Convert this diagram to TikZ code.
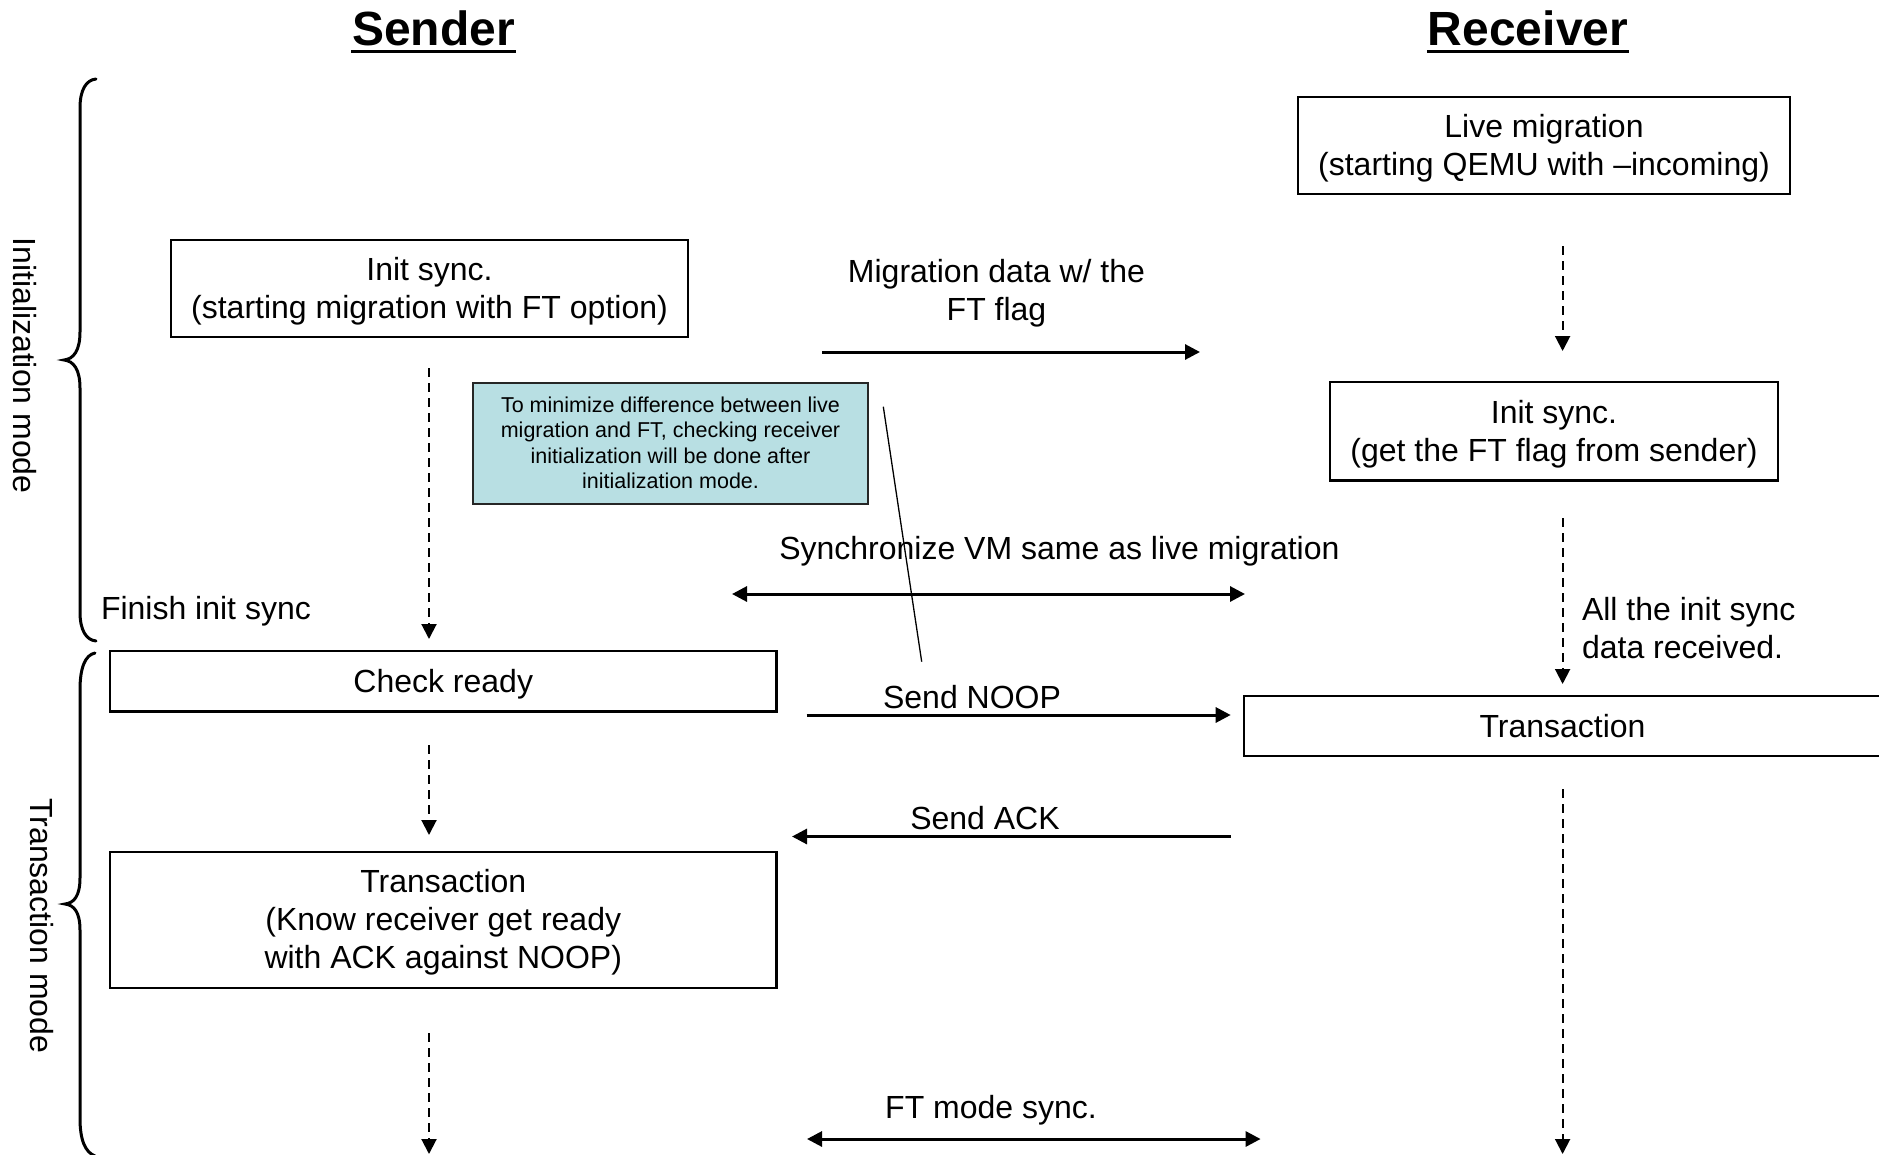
\documentclass[tikz,border=0pt]{standalone}
\usepackage{fontspec}
\setmainfont{Liberation Sans}
\usetikzlibrary{arrows.meta}
\definecolor{notefill}{RGB}{184,223,227}
\newcommand{\lstr}{\rule[-8pt]{0pt}{38pt}}
\newcommand{\nstr}{\rule[-5.25pt]{0pt}{25.5pt}}
\begin{document}
\begin{tikzpicture}[x=1pt,y=-1pt,
  every node/.style={inner sep=0pt,outer sep=0pt},
  big/.style={font=\fontsize{32pt}{38pt}\selectfont},
  titletxt/.style={font=\fontsize{48pt}{56pt}\selectfont\bfseries, anchor=base},
  box/.style={draw, line width=2.2pt, big, align=center},
  notebox/.style={draw=black!85, line width=2pt, fill=notefill, align=center,
    font=\fontsize{21.5pt}{25.5pt}\selectfont},
  lbl/.style={big, anchor=base},
  msg/.style={line width=3pt, -{Triangle[length=15pt,width=15pt]}},
  msgboth/.style={line width=3pt, {Triangle[length=15pt,width=15pt]}-{Triangle[length=15pt,width=15pt]}},
  flow/.style={line width=2pt, dash pattern=on 9pt off 6pt, -{Triangle[length=15pt,width=15pt]}},
  bracestyle/.style={line width=3pt, line cap=round}
]
\useasboundingbox (0,0) rectangle (1879,1154);

% titles
\node[titletxt] (sendT) at (433.5,45) {Sender};
\node[titletxt] (recvT) at (1528,45) {Receiver};
\draw[line width=3pt] ([yshift=-6.7pt,xshift=-1pt]sendT.base west) -- ([yshift=-6.7pt,xshift=1pt]sendT.base east);
\draw[line width=3pt] ([yshift=-6.7pt,xshift=-1pt]recvT.base west) -- ([yshift=-6.7pt,xshift=1pt]recvT.base east);

% braces
\draw[bracestyle] (96,79) .. controls (86,80) and (80,90) .. (80,108) -- (80,332)
  .. controls (80,350) and (74,359) .. (64,360) .. controls (74,361) and (80,370) .. (80,388)
  -- (80,612) .. controls (80,630) and (86,640) .. (96,641);
\draw[bracestyle] (95,653) .. controls (85,655) and (80,668) .. (80,690) -- (80,878)
  .. controls (80,896) and (74,903) .. (65,904) .. controls (74,905) and (80,912) .. (80,930)
  -- (80,1118) .. controls (80,1140) and (85,1152) .. (95,1156);
\node[big, rotate=-90] (initMode) at (25,365.5) {Initialization mode};
\node[big, rotate=-90] (transMode) at (41.5,925.7) {Transaction mode};

% boxes
\node[box, minimum width=492pt, minimum height=97pt] (liveR) at (1544,145.5)
  {\lstr Live migration\\\lstr(starting QEMU with –incoming)};
\node[box, minimum width=517pt, minimum height=97pt] (initS) at (429.5,288.5)
  {\lstr Init sync.\\\lstr(starting migration with FT option)};
\node[box, minimum width=448.5pt, minimum height=98.5pt] (initR) at (1554,431.3)
  {\lstr Init sync.\\\lstr(get the FT flag from sender)};
\node[notebox, minimum width=394.4pt, minimum height=121.3pt] (note) at (670.5,443.2)
  {\nstr To minimize difference between live\\\nstr migration and FT, checking receiver\\\nstr initialization will be done after\\\nstr initialization mode.};
\node[box, minimum width=666.5pt, minimum height=60.5pt] (check) at (443.25,681.3)
  {\lstr Check ready};
\node[box, minimum width=637pt, minimum height=60pt] (transR) at (1562.5,726)
  {\lstr Transaction};
\node[box, minimum width=666.5pt, minimum height=136pt] (transS) at (443.25,919.7)
  {\lstr Transaction\\\lstr(Know receiver get ready\\\lstr with ACK against NOOP)};

% labels
\node[big, align=center] (migLbl) at (996.5,290) {\lstr Migration data w/ the\\\lstr FT flag};
\node[lbl] (syncLbl) at (1059.4,559) {Synchronize VM same as live migration};
\node[big, anchor=base west] (finLbl) at (101,619) {Finish init sync};
\node[big, align=left, anchor=west] (allLbl) at (1582,628) {\lstr All the init sync\\\lstr data received.};
\node[lbl] (noopLbl) at (972,708) {Send NOOP};
\node[lbl] (ackLbl) at (985,829.5) {Send ACK};
\node[lbl] (ftLbl) at (991,1118) {FT mode sync.};

% message arrows
\coordinate (migA) at (822,352);   \coordinate (migB) at (1200,352);
\coordinate (syncA) at (732,594);  \coordinate (syncB) at (1245,594);
\coordinate (noopA) at (806.5,715); \coordinate (noopB) at (1230.7,715);
\coordinate (ackA) at (1230.7,836.5); \coordinate (ackB) at (792,836.5);
\coordinate (ftA) at (807,1139);   \coordinate (ftB) at (1260.6,1139);
\draw[msg] (migA) -- (migB);
\draw[msgboth] (syncA) -- (syncB);
\draw[msg] (noopA) -- (noopB);
\draw[msg] (ackA) -- (ackB);
\draw[msgboth] (ftA) -- (ftB);

% note pointer line
\coordinate (ptrA) at (883.3,406.7); \coordinate (ptrB) at (921.7,661.7);
\draw[line width=1.3pt] (ptrA) -- (ptrB);

% dashed flow arrows
\coordinate (s1a) at (429,368);  \coordinate (s1b) at (429,639);
\coordinate (s2a) at (429,745);  \coordinate (s2b) at (429,835);
\coordinate (s3a) at (429,1033); \coordinate (s3b) at (429,1154);
\coordinate (r1a) at (1562.6,246); \coordinate (r1b) at (1562.6,351);
\coordinate (r2a) at (1562.6,518); \coordinate (r2b) at (1562.6,684);
\coordinate (r3a) at (1562.6,789); \coordinate (r3b) at (1562.6,1154);
\draw[flow] (s1a) -- (s1b);
\draw[flow] (s2a) -- (s2b);
\draw[flow] (s3a) -- (s3b);
\draw[flow] (r1a) -- (r1b);
\draw[flow] (r2a) -- (r2b);
\draw[flow] (r3a) -- (r3b);
\end{tikzpicture}
\end{document}
